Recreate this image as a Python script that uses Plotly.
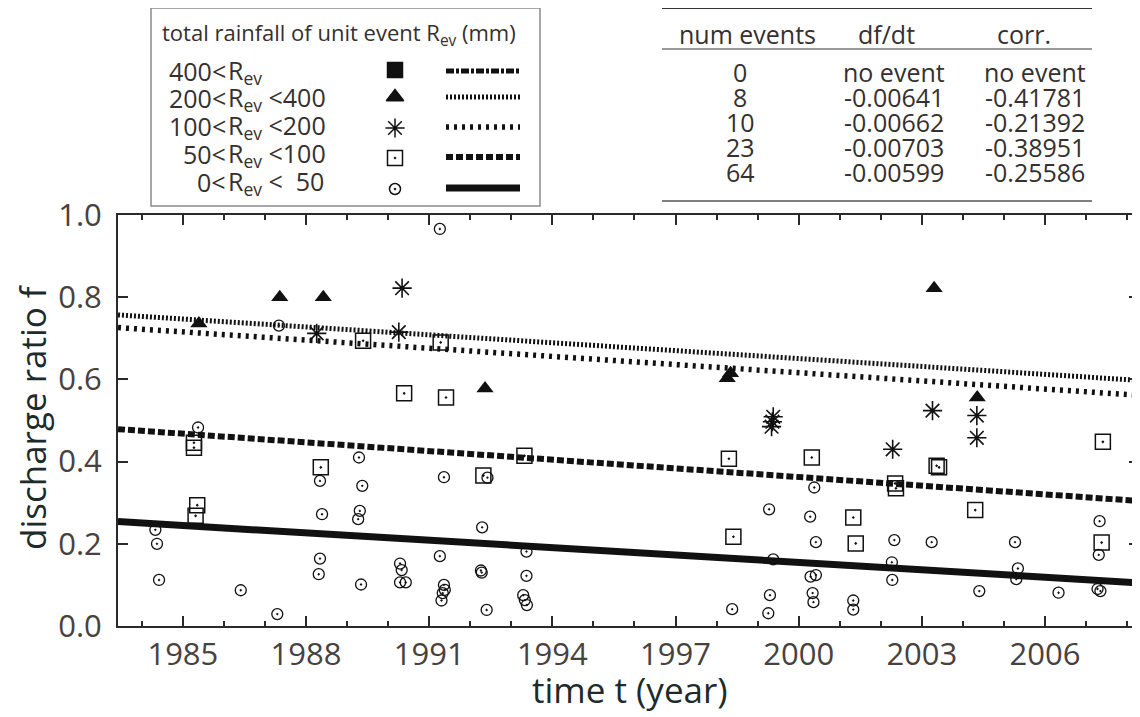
import plotly.graph_objects as go

# ---------------- data ----------------
# 0 < Rev < 50 (circles)
t_c50 = [1991.26, 1987.34, 1985.37, 1989.29, 1988.34, 1989.37, 1991.36, 1988.39, 1989.31, 1989.27,
         1984.33, 1984.37, 1984.42, 1986.41, 1987.30, 1988.34, 1988.31, 1989.34, 1990.29, 1990.33,
         1990.29, 1990.43, 1991.26, 1991.36, 1991.38, 1991.33, 1991.30, 1992.42, 1999.28, 1992.29,
         1993.37, 1993.37, 1993.29, 1993.33, 1993.38, 1992.26, 1992.28, 1992.40, 1999.38, 1999.30,
         1999.26, 1998.38, 2000.38, 2000.28, 2000.42, 2002.33, 2003.24, 2005.27, 2007.33, 2007.31,
         2002.27, 2002.28, 2000.29, 2000.42, 2000.34, 2000.36, 2001.33, 2001.33, 2004.40, 2005.34,
         2005.30, 2006.33, 2007.28, 2007.35]
f_c50 = [0.966, 0.731, 0.483, 0.410, 0.353, 0.341, 0.362, 0.272, 0.280, 0.260,
         0.234, 0.200, 0.112, 0.087, 0.029, 0.164, 0.126, 0.101, 0.152, 0.136,
         0.106, 0.106, 0.170, 0.100, 0.088, 0.080, 0.062, 0.361, 0.284, 0.240,
         0.181, 0.122, 0.075, 0.063, 0.051, 0.135, 0.130, 0.039, 0.162, 0.075,
         0.031, 0.041, 0.337, 0.266, 0.204, 0.209, 0.204, 0.204, 0.255, 0.173,
         0.155, 0.112, 0.120, 0.124, 0.080, 0.058, 0.062, 0.040, 0.085, 0.140,
         0.114, 0.081, 0.090, 0.085]

# 50 < Rev < 100 (open squares)
t_c100 = [1985.27, 1985.27, 1985.35, 1985.31, 1988.36, 1989.39, 1990.39, 1991.28, 1991.41, 1992.32,
          1993.32, 1998.30, 1998.41, 2000.32, 2001.33, 2001.39, 2002.35, 2002.37, 2003.36, 2003.42,
          2004.30, 2007.41, 2007.38]
f_c100 = [0.446, 0.434, 0.294, 0.268, 0.386, 0.694, 0.566, 0.690, 0.556, 0.366,
          0.414, 0.407, 0.217, 0.410, 0.264, 0.201, 0.347, 0.335, 0.390, 0.386,
          0.282, 0.448, 0.203]

# 100 < Rev < 200 (asterisks)
t_c200 = [1988.26, 1990.26, 1990.34, 1999.38, 1999.36, 1999.34, 2002.29, 2003.26, 2004.34, 2004.34]
f_c200 = [0.712, 0.715, 0.822, 0.509, 0.497, 0.485, 0.430, 0.524, 0.512, 0.458]

# 200 < Rev < 400 (triangles)
t_c400 = [1985.39, 1987.36, 1988.42, 1992.36, 1998.26, 1998.34, 2003.30, 2004.35]
f_c400 = [0.736, 0.800, 0.800, 0.578, 0.603, 0.615, 0.822, 0.556]

# regression table
num_events = ["0", "8", "10", "23", "64"]
dfdt = ["no event", "-0.00641", "-0.00662", "-0.00703", "-0.00599"]
corr = ["no event", "-0.41781", "-0.21392", "-0.38951", "-0.25586"]
slopes = [-0.00641, -0.00662, -0.00703, -0.00599]      # 200-400, 100-200, 50-100, 0-50
trend_start = [0.757, 0.726, 0.479, 0.254]             # value at left edge of axis

legend_prefix = ["400<", "200<", "100<", "50<", "0<"]
legend_suffix = ["R<sub>ev</sub>", "R<sub>ev</sub> <400", "R<sub>ev</sub> <200",
                 "R<sub>ev</sub> <100", "R<sub>ev</sub> <\u00a0\u00a050"]

x_tick_vals = [1985, 1988, 1991, 1994, 1997, 2000, 2003, 2006]
x_range = [1983.42, 2008.29]
y_range = [0.0, 1.0]

# ---------------- styling ----------------
W, H = 1140, 717
OFF = 8          # page body margin offset (window px -> figure px)
FONT = "Open Sans"
INK = "#111111"
TICK_COL = "#48423f"
TITLE_COL = "#1e2b2b"
AX_COL = "#2a2a2a"

fig = go.Figure()

line_styles = [
    dict(width=5, dash="2px,2px"),
    dict(width=5.5, dash="3px,5px"),
    dict(width=6, dash="7px,3px"),
    dict(width=7, dash="solid"),
]
for s0, sl, ls in zip(trend_start, slopes, line_styles):
    fig.add_trace(go.Scatter(
        x=x_range, y=[s0, s0 + sl * (x_range[1] - x_range[0])],
        mode="lines", line=dict(color=INK, **ls), showlegend=False, hoverinfo="skip"))

fig.add_trace(go.Scatter(x=t_c50, y=f_c50, mode="markers", showlegend=False,
                         marker=dict(symbol="circle-open-dot", size=11, color=INK,
                                     line=dict(width=1.3, color=INK))))
fig.add_trace(go.Scatter(x=t_c100, y=f_c100, mode="markers", showlegend=False,
                         marker=dict(symbol="square-open-dot", size=15, color=INK,
                                     line=dict(width=1.5, color=INK))))
fig.add_trace(go.Scatter(x=t_c200, y=f_c200, mode="markers", showlegend=False,
                         marker=dict(symbol="asterisk-open", size=16, color=INK,
                                     line=dict(width=1.6, color=INK))))
fig.add_trace(go.Scatter(x=t_c400, y=f_c400, mode="markers", showlegend=False,
                         marker=dict(symbol="triangle-up", size=15, color=INK,
                                     line=dict(width=0))))

# ---------------- legend (drawn in window-pixel space on x2/y2) ----------------
leg_marker_y = [70, 97, 128, 158, 189]
leg_symbols = ["square", "triangle-up", "asterisk-open", "square-open-dot", "circle-open-dot"]
leg_sizes = [15, 15, 16, 15, 11]
for yy, sym, sz in zip(leg_marker_y, leg_symbols, leg_sizes):
    fig.add_trace(go.Scatter(x=[395], y=[yy], xaxis="x2", yaxis="y2", mode="markers",
                             showlegend=False, hoverinfo="skip",
                             marker=dict(symbol=sym, size=sz, color=INK,
                                         line=dict(width=1.5, color=INK))))
leg_line_y = [71, 97, 127, 157, 188]
leg_line_styles = [dict(width=5, dash="8px,2px,3px,2px")] + line_styles
for yy, ls in zip(leg_line_y, leg_line_styles):
    fig.add_trace(go.Scatter(x=[446, 520], y=[yy, yy], xaxis="x2", yaxis="y2", mode="lines",
                             showlegend=False, hoverinfo="skip", line=dict(color=INK, **ls)))

shapes = [
    dict(type="rect", xref="x2", yref="y2", x0=151, x1=540, y0=8, y1=206,
         line=dict(color="#8a8a8a", width=1.5), fillcolor="rgba(0,0,0,0)", layer="below"),
    dict(type="line", xref="x2", yref="y2", x0=662, x1=1092, y0=8, y1=8,
         line=dict(color="#333333", width=2)),
    dict(type="line", xref="x2", yref="y2", x0=662, x1=1092, y0=49, y1=49,
         line=dict(color="#777777", width=1.5)),
    dict(type="line", xref="x2", yref="y2", x0=662, x1=1092, y0=201, y1=201,
         line=dict(color="#555555", width=1.5)),
]

annotations = []
LEG_COL = "#35302e"
annotations.append(dict(xref="x2", yref="y2", x=160, y=34, xanchor="left", yanchor="middle",
                        text="total rainfall of unit event R<sub>ev</sub> (mm)", showarrow=False,
                        font=dict(family=FONT, size=22, color=LEG_COL)))
leg_text_y = [71, 98, 126, 154, 182]
for yy, pre, suf in zip(leg_text_y, legend_prefix, legend_suffix):
    annotations.append(dict(xref="x2", yref="y2", x=227, y=yy, xanchor="right", yanchor="middle",
                            text=pre, showarrow=False, borderpad=0,
                            font=dict(family=FONT, size=25, color=LEG_COL)))
    annotations.append(dict(xref="x2", yref="y2", x=227, y=yy, xanchor="left", yanchor="middle",
                            text=suf, showarrow=False, borderpad=0,
                            font=dict(family=FONT, size=25, color=LEG_COL)))

# table
col_x = [740, 894, 1035]
headers = ["num events", "df/dt", "corr."]
header_x = [747, 886, 1024]
for hx, h in zip(header_x, headers):
    annotations.append(dict(xref="x2", yref="y2", x=hx, y=34, xanchor="center", yanchor="middle",
                            text=h, showarrow=False,
                            font=dict(family=FONT, size=25, color=LEG_COL)))
row_y = [72, 97, 122, 147, 172]
for i, ry in enumerate(row_y):
    for cx, val in zip(col_x, [num_events[i], dfdt[i], corr[i]]):
        annotations.append(dict(xref="x2", yref="y2", x=cx, y=ry, xanchor="center",
                                yanchor="middle", text=val, showarrow=False,
                                font=dict(family=FONT, size=25, color=LEG_COL)))

# axis titles (placed as annotations for exact positions)
annotations.append(dict(xref="x2", yref="y2", x=630, y=689, xanchor="center", yanchor="middle",
                        text="time t (year)", showarrow=False, borderpad=0,
                        font=dict(family=FONT, size=35, color=TITLE_COL)))
annotations.append(dict(xref="x2", yref="y2", x=32, y=417, xanchor="center", yanchor="middle",
                        text="discharge ratio f", showarrow=False, borderpad=0, textangle=-90,
                        font=dict(family=FONT, size=35, color=TITLE_COL)))

fig.update_layout(
    width=W, height=H,
    margin=dict(l=0, r=0, t=0, b=0, autoexpand=False),
    paper_bgcolor="white", plot_bgcolor="rgba(0,0,0,0)",
    showlegend=False,
    shapes=shapes, annotations=annotations,
    xaxis=dict(
        domain=[(118 - OFF) / W, (1139 - OFF) / W], range=x_range, automargin=False,
        tickmode="array", tickvals=x_tick_vals, ticktext=[str(v) for v in x_tick_vals],
        ticks="inside", ticklen=10, tickwidth=1.5, tickcolor=AX_COL,
        minor=dict(tickmode="linear", tick0=1985, dtick=1, ticks="inside", ticklen=5,
                   tickwidth=1.5, tickcolor=AX_COL),
        showline=True, linecolor=AX_COL, linewidth=2, mirror="ticks",
        showgrid=False, zeroline=False, ticklabelstandoff=0,
        tickfont=dict(family=FONT, size=31, color=TICK_COL),
    ),
    yaxis=dict(
        domain=[1 - (626 - OFF) / H, 1 - (215 - OFF) / H], range=y_range, automargin=False,
        tickmode="linear", tick0=0, dtick=0.2, tickformat=".1f",
        ticks="inside", ticklen=10, tickwidth=1.5, tickcolor=AX_COL,
        showline=True, linecolor=AX_COL, linewidth=2, mirror="ticks",
        showgrid=False, zeroline=False, ticklabelstandoff=8,
        tickfont=dict(family=FONT, size=31, color=TICK_COL),
    ),
    xaxis2=dict(domain=[0, 1], range=[OFF, W + OFF], visible=False, anchor="y2",
                fixedrange=True, automargin=False),
    yaxis2=dict(domain=[0, 1], range=[H + OFF, OFF], visible=False, anchor="x2",
                fixedrange=True, automargin=False),
)

fig.write_html("out.html")
